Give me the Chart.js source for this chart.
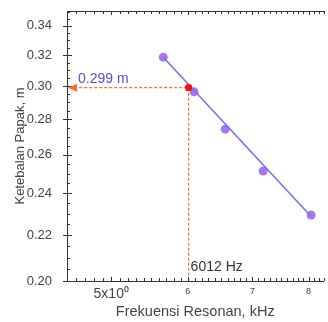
<!DOCTYPE html>
<html><head><meta charset="utf-8">
<script src="https://cdn.jsdelivr.net/npm/chart.js@4/dist/chart.umd.min.js"></script>
<style>html,body{margin:0;padding:0;background:#fff;}canvas{display:block;}</style>
</head><body>
<canvas id="c" width="328" height="322"></canvas>
<script>
// Data
const freqKHz = [5.66, 6.09, 6.56, 7.18, 8.05];
const thickness = [0.3186, 0.2964, 0.2743, 0.2514, 0.2294];
const fitX = [5.66, 8.05];
const fitY = [0.3185, 0.2287];
const markFreq = 6.012;
const markThick = 0.299;
const xTickValues = [5, 6, 7, 8];
const yTickValues = [0.20, 0.22, 0.24, 0.26, 0.28, 0.30, 0.32, 0.34];
const xRange = [4.523, 8.29];
const yRange = [0.20, 0.3507];

const ORANGE = '#ff6f2a';
const FAM = '"Liberation Sans", Arial, sans-serif';

const annot = {
  id: 'annot',
  afterDraw(chart) {
    const {ctx, chartArea: a, scales: {x, y}} = chart;
    ctx.save();
    ctx.fillStyle = '#333';
    // minor / major ticks (inward)
    for (let i = 0; i <= 30; i++) {
      const v = 0.20 + i * 0.005;
      const p = Math.round(y.getPixelForValue(v));
      const major = yTickValues.some(t => Math.abs(t - v) < 1e-6);
      const x0 = a.left - (major ? 4 : 0);
      const x1 = a.left + (major ? 5 : 3);
      ctx.fillRect(x0, p, x1 - x0, 1);
    }
    for (let i = 46; i <= 83; i++) {
      const v = i / 10;
      const p = Math.round(x.getPixelForValue(v));
      const len = (i % 10 === 0) ? 4 : 3;
      ctx.fillRect(p, a.bottom - len, 1, len);
      ctx.fillRect(p, a.top, 1, len);
    }
    // arrow head at left axis
    const ay = y.getPixelForValue(markThick);
    ctx.fillStyle = ORANGE;
    ctx.beginPath();
    ctx.moveTo(a.left + 1, ay);
    ctx.lineTo(a.left + 10, ay - 4);
    ctx.lineTo(a.left + 10, ay + 4);
    ctx.closePath();
    ctx.fill();
    // labels
    ctx.font = '14px ' + FAM;
    ctx.textBaseline = 'middle';
    ctx.textAlign = 'left';
    ctx.fillStyle = '#5050dc';
    ctx.fillText(markThick + ' m', a.left + 11, ay - 9);
    ctx.fillStyle = '#333';
    ctx.fillText(Math.round(markFreq * 1000) + ' Hz', x.getPixelForValue(markFreq) + 2, a.bottom - 14);
    ctx.restore();
  }
};

new Chart(document.getElementById('c'), {
  type: 'scatter',
  data: {
    datasets: [
      {
        data: [{x: xRange[0], y: markThick}, {x: markFreq, y: markThick}],
        showLine: true, borderColor: ORANGE, borderWidth: 1.2, borderDash: [3, 2],
        pointRadius: 0, order: 5
      },
      {
        data: [{x: markFreq, y: markThick}, {x: markFreq, y: yRange[0]}],
        showLine: true, borderColor: ORANGE, borderWidth: 1.2, borderDash: [3, 2],
        pointRadius: 0, order: 5
      },
      {
        data: fitX.map((v, i) => ({x: v, y: fitY[i]})),
        showLine: true, borderColor: '#7474ee', borderWidth: 1.6,
        pointRadius: 0, order: 3
      },
      {
        data: freqKHz.map((v, i) => ({x: v, y: thickness[i]})),
        backgroundColor: 'rgba(150,95,235,0.85)', borderWidth: 0,
        pointRadius: 4.5, order: 2
      },
      {
        data: [{x: markFreq, y: markThick}],
        backgroundColor: '#ee1111', borderWidth: 0, pointStyle: 'rectRounded',
        pointRadius: 4, order: 1
      }
    ]
  },
  options: {
    responsive: false, animation: false, devicePixelRatio: 1,
    layout: {padding: {top: 11, right: 0, left: 0, bottom: 0}},
    plugins: {legend: {display: false}, tooltip: {enabled: false}},
    scales: {
      x: {
        type: 'logarithmic', position: 'bottom', min: xRange[0], max: xRange[1],
        afterBuildTicks: s => { s.ticks = xTickValues.map(v => ({value: v})); },
        afterFit: s => { s.height = 41; s.paddingLeft = 0; s.paddingRight = 0; },
        grid: {display: false, drawTicks: false},
        border: {display: true, color: '#333', width: 1},
        ticks: {
          autoSkip: false, maxRotation: 0, padding: 5, color: '#444',
          font: c => (c.tick && c.tick.value === 5) ? {size: 14, family: FAM} : {size: 9, family: FAM},
          callback: v => v === 5 ? '5x10\u2070' : String(v)
        },
        title: {display: true, text: 'Frekuensi Resonan, kHz', color: '#444',
          font: {size: 14.5, family: FAM}, padding: {top: 2, bottom: 1}}
      },
      x2: {
        type: 'logarithmic', position: 'top', min: xRange[0], max: xRange[1],
        grid: {display: false, drawTicks: false}, afterFit: s => { s.height = 0; s.paddingLeft = 0; s.paddingRight = 0; },
        border: {display: true, color: '#333', width: 1},
        ticks: {display: false}
      },
      y: {
        type: 'logarithmic', min: yRange[0], max: yRange[1],
        afterBuildTicks: s => { s.ticks = yTickValues.map(v => ({value: v})); },
        afterFit: s => { s.width = 67; s.paddingTop = 0; s.paddingBottom = 0; },
        grid: {display: false},
        border: {display: true, color: '#333', width: 1},
        ticks: {
          autoSkip: false, padding: 7, color: '#444',
          font: {size: 13, family: FAM},
          callback: v => Number(v).toFixed(2)
        },
        title: {display: true, text: 'Ketebalan Papak, m', color: '#444',
          font: {size: 13, family: FAM}, padding: {top: 13, bottom: 0}}
      }
    }
  },
  plugins: [annot]
});
</script>
</body></html>
